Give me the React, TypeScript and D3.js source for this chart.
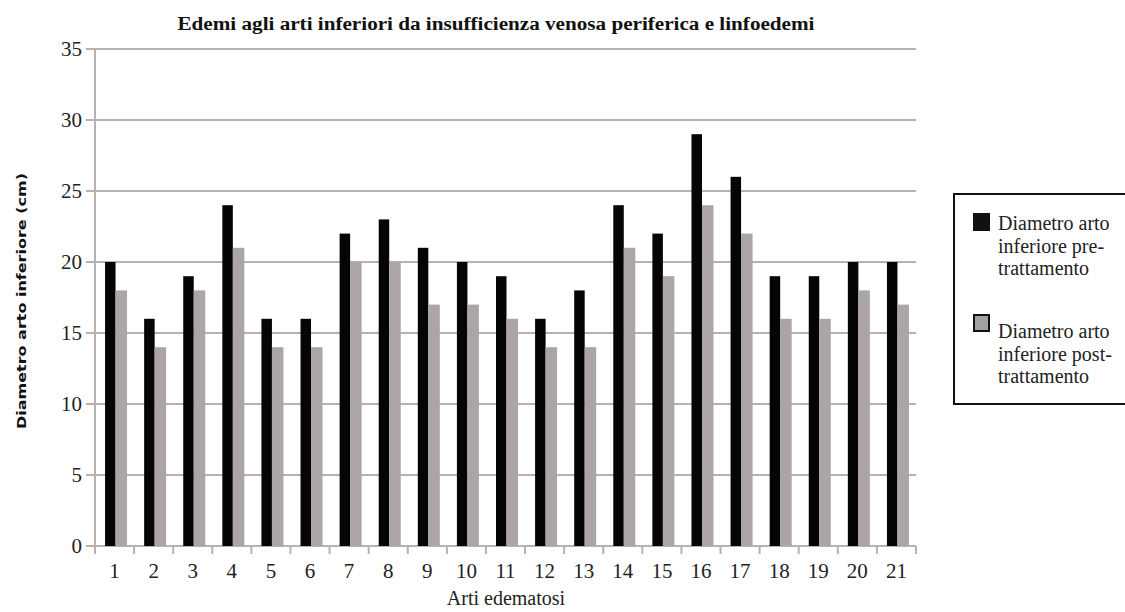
import React from "react";
import * as d3 from "d3";

const categories = ["1","2","3","4","5","6","7","8","9","10","11","12","13","14","15","16","17","18","19","20","21"];
const preValues = [20,16,19,24,16,16,22,23,21,20,19,16,18,24,22,29,26,19,19,20,20];
const postValues = [18,14,18,21,14,14,20,20,17,17,16,14,14,21,19,24,22,16,16,18,17];
const yTicks = [0,5,10,15,20,25,30,35];
const seriesNames = [["Diametro arto","inferiore pre-","trattamento"],["Diametro arto","inferiore post-","trattamento"]];
const title = "Edemi agli arti inferiori da insufficienza venosa periferica e linfoedemi";
const xTitle = "Arti edematosi";
const yTitle = "Diametro arto inferiore (cm)";

const W = 1125, H = 612;
const left = 95, right = 916, top = 49, bottom = 546;
const serif = "'Liberation Serif', 'Times New Roman', serif";
const black = "#050505";
const gray = "#aba5a5";
const grid = "#b9b0b0";

export default function App() {
  const x = d3.scaleBand().domain(categories).range([left, right]).paddingInner(0).paddingOuter(0);
  const y = d3.scaleLinear().domain([0, 35]).range([bottom, top]);
  const bw = 10.5;
  const gw = 11.5;
  return (
    <svg width={W} height={H} style={{ position: "absolute", left: 0, top: 0, background: "#fff" }}>
      <text x={496} y={30} textAnchor="middle" fontFamily={serif} fontWeight="bold" fontSize={18} textLength={637} lengthAdjust="spacingAndGlyphs" fill="#111">{title}</text>
      {yTicks.map(t => (
        <g key={t}>
          {t > 0 && <line x1={left} x2={right} y1={y(t)} y2={y(t)} stroke={grid} strokeWidth={2} />}
          <line x1={left - 9} x2={left} y1={y(t)} y2={y(t)} stroke={grid} strokeWidth={2} />
          <text x={left - 13} y={y(t) + 7} textAnchor="end" fontFamily={serif} fontSize={21} fill="#222">{t}</text>
        </g>
      ))}
      <line x1={left} x2={left} y1={top} y2={bottom} stroke={grid} strokeWidth={2} />
      <line x1={left - 1} x2={right} y1={bottom} y2={bottom} stroke={grid} strokeWidth={2} />
      {categories.map((c, i) => {
        const cx = (x(c) as number) + x.bandwidth() / 2 + 1;
        return (
          <g key={c}>
            <line x1={(x(c) as number)} x2={(x(c) as number)} y1={bottom} y2={bottom + 8} stroke={grid} strokeWidth={2} />
            <rect x={cx - bw} y={y(preValues[i])} width={bw} height={bottom - y(preValues[i])} fill={black} />
            <rect x={cx} y={y(postValues[i])} width={gw} height={bottom - y(postValues[i])} fill={gray} />
            <text x={(x(c) as number) + x.bandwidth() / 2} y={578} textAnchor="middle" fontFamily={serif} fontSize={21} fill="#222">{c}</text>
          </g>
        );
      })}
      <line x1={right} x2={right} y1={bottom} y2={bottom + 8} stroke={grid} strokeWidth={2} />
      <text x={506} y={605} textAnchor="middle" fontFamily={serif} fontSize={20} fill="#222">{xTitle}</text>
      <text transform={`translate(26,301) rotate(-90)`} textAnchor="middle" fontFamily="'DejaVu Sans', sans-serif" fontWeight="bold" fontSize={12} textLength={256} lengthAdjust="spacingAndGlyphs" fill="#111">{yTitle}</text>
      <rect x={954} y={194} width={190} height={210} fill="#fff" stroke="#111" strokeWidth={2} />
      {seriesNames.map((lines, k) => (
        <g key={k}>
          <rect x={974} y={214 + k * 101} width={15} height={16} fill={k === 0 ? "#111" : "#a3a0a0"} stroke="#111" strokeWidth={2} />
          {lines.map((l, j) => (
            <text key={j} x={998} y={230 + k * 108 + j * 22.5} fontFamily={serif} fontSize={20} fill="#222">{l}</text>
          ))}
        </g>
      ))}
    </svg>
  );
}
